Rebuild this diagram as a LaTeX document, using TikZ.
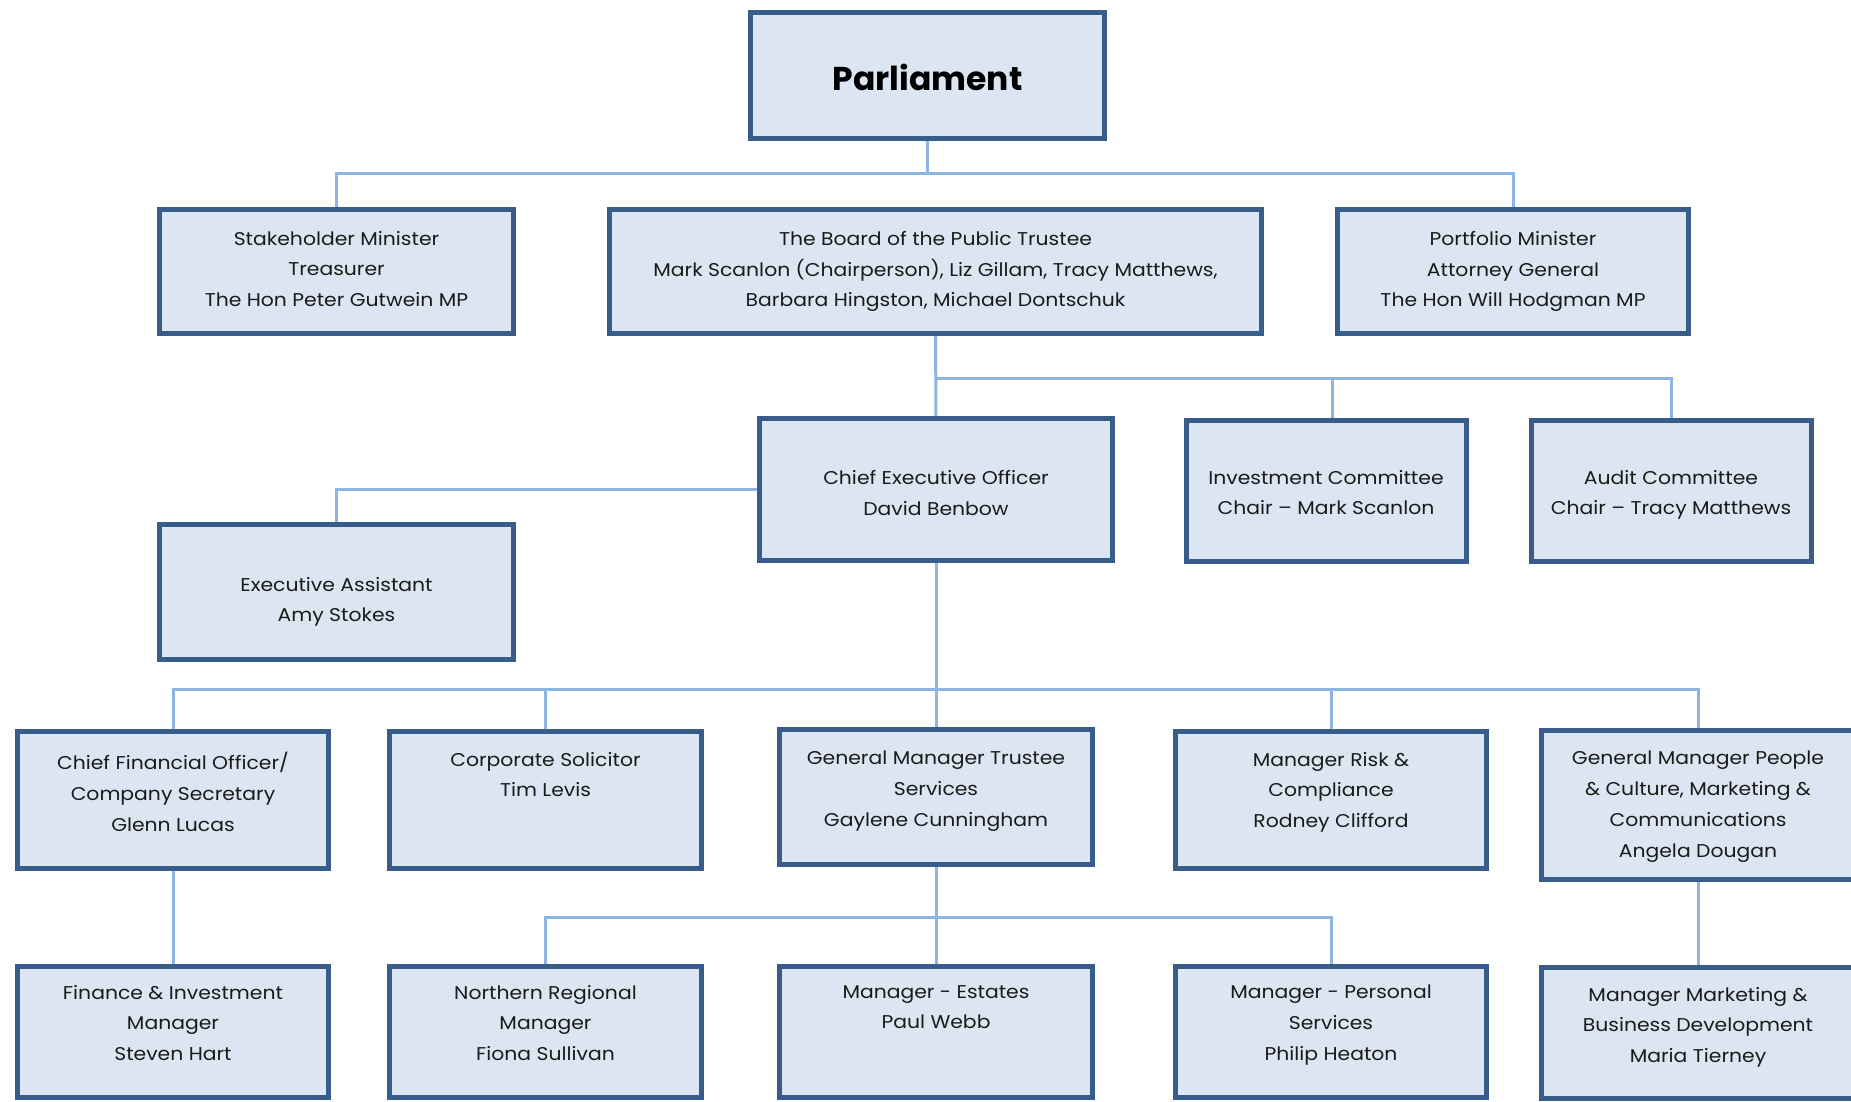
\documentclass[tikz,border=0pt]{standalone}
\usepackage{fontspec}
\setmainfont{Poppins}[FakeStretch=1.1]
\newfontfamily\titlefont{Poppins}
\usetikzlibrary{backgrounds}
\pgfdeclarelayer{bottom}
\pgfsetlayers{bottom,background,main}
\definecolor{boxline}{HTML}{385D8A}
\definecolor{boxfill}{HTML}{DCE6F2}
\definecolor{connline}{HTML}{8EB4E3}
\definecolor{txtcol}{HTML}{1A1A1A}
\tikzset{
  orgbox/.style={draw=boxline, fill=boxfill, line width=5pt, inner sep=0pt, outer sep=0pt},
  orgtxt/.style={anchor=north, align=center, inner sep=0pt, text=txtcol,
     font=\fontsize{18.5pt}{30.7pt}\selectfont,
     execute at begin node={\rule{0pt}{18pt}}},
  conn/.style={draw=connline, line width=3pt},
}
\newcommand{\obox}[6]{% name, x1, y1, x2, y2
  \node[orgbox, minimum width={#4-#2-5pt}, minimum height={#5-#3-5pt}] (#1) at ({(#2+#4)/2},{(#3+#5)/2}) {};}
\begin{document}
\begin{tikzpicture}[x=1pt, y=-1pt]
\useasboundingbox (0,0) rectangle (1851,1101);
\clip (0,0) rectangle (1851,1101);
\begin{pgfonlayer}{bottom}
\fill[white] (0,0) rectangle (1851,1101);
\end{pgfonlayer}

% boxes
\obox{parl}{748}{10}{1107}{141}{}
\obox{stake}{157}{207}{516}{336}{}
\obox{board}{607}{207}{1264}{336}{}
\obox{port}{1335}{207}{1691}{336}{}
\obox{ceo}{757}{416}{1115}{563}{}
\obox{inv}{1184}{418}{1469}{564}{}
\obox{audit}{1529}{418}{1814}{564}{}
\obox{ea}{157}{522}{516}{662}{}
\obox{cfo}{15}{729}{331}{871}{}
\obox{cs}{387}{729}{704}{871}{}
\obox{gmt}{777}{727}{1095}{867}{}
\obox{risk}{1173}{729}{1489}{871}{}
\obox{gmp}{1539}{728}{1857}{882}{}
\obox{fin}{15}{964}{331}{1100}{}
\obox{nrm}{387}{964}{704}{1100}{}
\obox{est}{777}{964}{1095}{1100}{}
\obox{pers}{1173}{964}{1489}{1100}{}
\obox{mkt}{1539}{965}{1857}{1101}{}

% texts
\node[anchor=center, inner sep=0pt, text=black, font=\titlefont\bfseries\fontsize{33pt}{40pt}\selectfont] (parl-t) at (927.5,77) {Parliament};
\node[orgtxt] (stake-t) at (336.5,231) {Stakeholder Minister\\Treasurer\\The Hon Peter Gutwein MP};
\node[orgtxt] (board-t) at (935.5,231) {The Board of the Public Trustee\\Mark Scanlon (Chairperson), Liz Gillam, Tracy Matthews,\\Barbara Hingston, Michael Dontschuk};
\node[orgtxt] (port-t) at (1513,231) {Portfolio Minister\\Attorney General\\The Hon Will Hodgman MP};
\node[orgtxt] (ceo-t) at (936,470) {Chief Executive Officer\\David Benbow};
\node[orgtxt] (inv-t) at (1326,470) {Investment Committee\\Chair -- Mark Scanlon};
\node[orgtxt] (audit-t) at (1671,470) {Audit Committee\\Chair -- Tracy Matthews};
\node[orgtxt] (ea-t) at (336.5,577) {Executive Assistant\\Amy Stokes};
\node[orgtxt] (cfo-t) at (173,752) {Chief Financial Officer/\\Company Secretary\\Glenn Lucas};
\node[orgtxt] (cs-t) at (545.5,752) {Corporate Solicitor\\Tim Levis};
\node[orgtxt] (gmt-t) at (936,751) {General Manager Trustee\\Services\\Gaylene Cunningham};
\node[orgtxt] (risk-t) at (1331,752) {Manager Risk \&\\Compliance\\Rodney Clifford};
\node[orgtxt] (gmp-t) at (1698,751) {General Manager People\\\& Culture, Marketing \&\\Communications\\Angela Dougan};
\node[orgtxt] (fin-t) at (173,985) {Finance \& Investment\\Manager\\Steven Hart};
\node[orgtxt] (nrm-t) at (545.5,985) {Northern Regional\\Manager\\Fiona Sullivan};
\node[orgtxt] (est-t) at (936,985) {Manager - Estates\\Paul Webb};
\node[orgtxt] (pers-t) at (1331,985) {Manager - Personal\\Services\\Philip Heaton};
\node[orgtxt] (mkt-t) at (1698,987) {Manager Marketing \&\\Business Development\\Maria Tierney};

% connectors
\begin{pgfonlayer}{background}
\coordinate (bus1) at (927.5,173);
\draw[conn] (parl.south) -- (bus1);
\draw[conn] (bus1) -| (stake.north);
\draw[conn] (bus1) -| (port.north);

\coordinate (bus2) at (935.5,378);
\draw[conn] (board.south) -- (ceo.north);
\draw[conn] (bus2) -| ([xshift=6pt]inv.north);
\draw[conn] (bus2) -| (audit.north);

\draw[conn] (ceo.west) -| (ea.north);

\coordinate (bus3) at (936,689);
\draw[conn] (ceo.south) -- (gmt.north);
\draw[conn] (bus3) -| (cfo.north);
\draw[conn] (bus3) -| (cs.north);
\draw[conn] (bus3) -| (risk.north);
\draw[conn] (bus3) -| (gmp.north);

\draw[conn] (cfo.south) -- (fin.north);
\coordinate (bus4) at (936,917);
\draw[conn] (gmt.south) -- (est.north);
\draw[conn] (bus4) -| (nrm.north);
\draw[conn] (bus4) -| (pers.north);
\draw[conn] (gmp.south) -- (mkt.north);
\end{pgfonlayer}
\end{tikzpicture}
\end{document}
